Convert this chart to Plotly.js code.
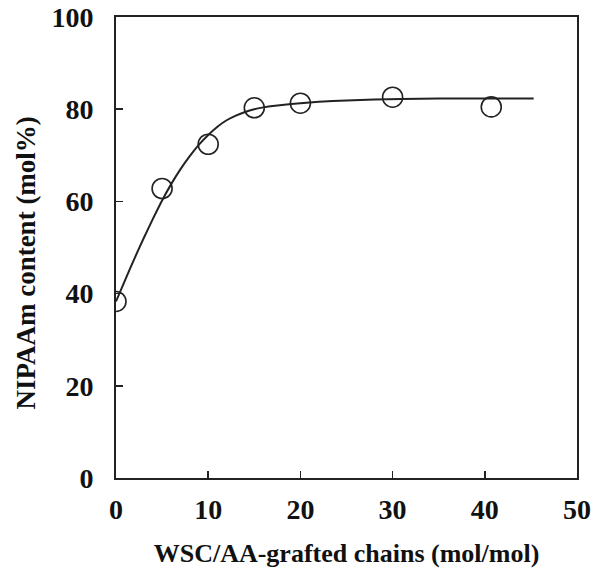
<!DOCTYPE html>
<html>
<head>
<meta charset="utf-8">
<script src="https://cdn.plot.ly/plotly-3.0.1.min.js"></script>
<style>html,body{margin:0;padding:0;background:#fff;}#chart{width:593px;height:569px;}</style>
</head>
<body>
<div id="chart"></div>
<script>
// Measured data points
const ratio = [0, 5, 10, 15, 20, 30, 40.7];
const nipaam = [38.3, 62.8, 72.4, 80.3, 81.3, 82.6, 80.5];

// Fitted curve
const curveX = [0, 1, 2, 3, 4, 5, 6, 7, 8, 9, 10, 11, 12, 13, 14, 15, 16, 17, 18, 20, 22, 25, 28, 31, 35, 40, 45.3];
const curveY = [38.3, 43.0, 47.6, 52.0, 56.2, 60.2, 63.8, 67.0, 69.8, 72.3, 74.4, 76.2, 77.6, 78.6, 79.4, 80.0, 80.4, 80.7, 80.9, 81.3, 81.6, 81.9, 82.1, 82.2, 82.3, 82.3, 82.3];

const xTicks = [0, 10, 20, 30, 40, 50];
const yTicks = [0, 20, 40, 60, 80, 100];

const font = {family: '"Liberation Serif", "Times New Roman", serif', color: '#111'};

const traces = [
  {x: curveX, y: curveY, mode: 'lines', line: {color: '#222', width: 2, shape: 'spline', smoothing: 0.4}, hoverinfo: 'skip'},
  {x: ratio, y: nipaam, mode: 'markers', marker: {symbol: 'circle-open', size: 20, color: '#222', line: {width: 1.6, color: '#222'}}}
];

const layout = {
  width: 593, height: 569,
  margin: {l: 115.5, r: 16, t: 16.5, b: 90.5},
  paper_bgcolor: '#fff', plot_bgcolor: '#fff',
  showlegend: false,
  font: Object.assign({size: 26}, font),
  xaxis: {
    range: [0, 50], tickvals: xTicks, ticktext: xTicks.map(String),
    ticks: 'inside', ticklen: 7, tickwidth: 1.5, tickcolor: '#222',
    showline: true, linecolor: '#222', linewidth: 2, mirror: true,
    showgrid: false, zeroline: false,
    tickfont: Object.assign({size: 28, weight: 'bold'}, font),
    ticklabelstandoff: 5,
    title: {text: '<b>WSC/AA-grafted chains (mol/mol)</b>', font: Object.assign({size: 26}, font), standoff: 20}
  },
  yaxis: {
    range: [0, 100], tickvals: yTicks, ticktext: yTicks.map(String),
    ticks: 'inside', ticklen: 7, tickwidth: 1.5, tickcolor: '#222',
    showline: true, linecolor: '#222', linewidth: 2, mirror: true,
    showgrid: false, zeroline: false,
    tickfont: Object.assign({size: 28, weight: 'bold'}, font),
    ticklabelstandoff: 15
  },
  annotations: [{
    text: '<b>NIPAAm content (mol%)</b>', textangle: -90,
    xref: 'paper', yref: 'paper', x: -0.196, y: 0.4665,
    xanchor: 'center', yanchor: 'middle', showarrow: false,
    font: Object.assign({size: 27}, font)
  }]
};

Plotly.newPlot('chart', traces, layout, {displayModeBar: false, staticPlot: true});
</script>
</body>
</html>
